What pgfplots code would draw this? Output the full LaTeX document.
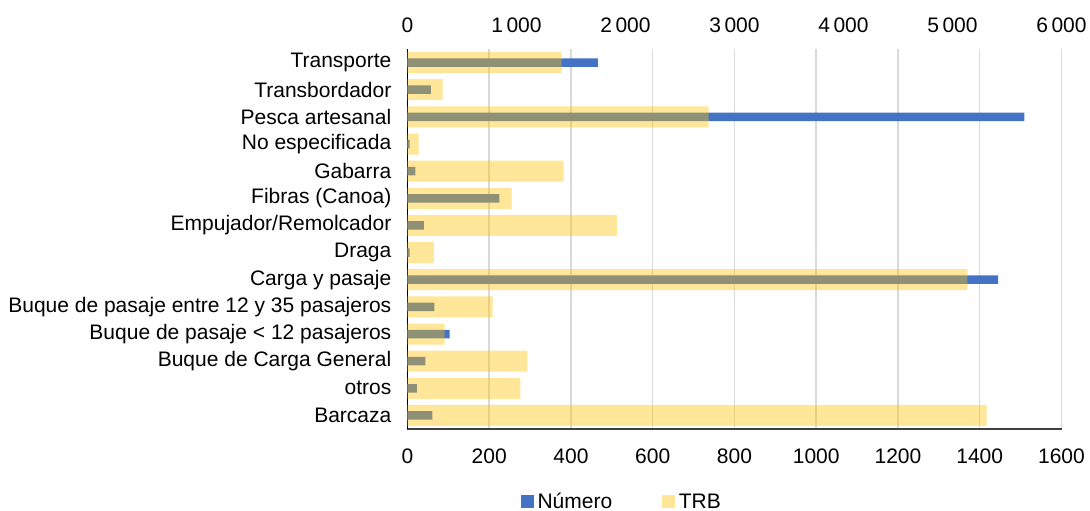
\documentclass[border=0pt]{standalone}
\usepackage{pgfplots}
\pgfplotsset{compat=1.18}
\usepackage{fontspec}
\setmainfont{Liberation Sans}

\definecolor{numblue}{HTML}{4472C4}
\definecolor{trbgold}{HTML}{FFC000}
\definecolor{gridgray}{HTML}{D9D9D9}

\newcommand{\chartfont}{\fontsize{21}{24}\selectfont}

\pgfplotsset{
  vesselframe/.style={
    scale only axis, width=654pt, height=380pt,
    at={(0,0)}, anchor=south west,
    xmin=0, ymin=-0.5, ymax=13.5, y dir=reverse,
    major tick length=0pt,
    tick label style={font=\chartfont},
    /pgf/number format/assume math mode=true,
  },
  sqlegend/.style={
    legend image code/.code={\fill[##1] (0pt,-6.3pt) rectangle (12.6pt,6.3pt);}
  },
}

\begin{document}
\begin{tikzpicture}
% Number of vessels per type (bottom axis)
\begin{axis}[vesselframe,
  xmax=1600, xtick={0,200,...,1600},
  /pgf/number format/1000 sep={},
  ytick={0,...,13},
  yticklabels={Transporte, Transbordador, Pesca artesanal, No especificada,
    Gabarra, Fibras (Canoa), Empujador/Remolcador, Draga, Carga y pasaje,
    Buque de pasaje entre 12 y 35 pasajeros, Buque de pasaje < 12 pasajeros,
    Buque de Carga General, otros, Barcaza},
  axis x line*=bottom, axis y line*=left,
  x axis line style={draw=black!75, line width=1.5pt},
  y axis line style={draw=black, line width=1.2pt},
  xmajorgrids, grid style={draw=gridgray, line width=1.5pt},
  xticklabel style={anchor=north, inner sep=0pt, yshift=-20pt},
  yticklabel style={anchor=east, inner sep=0pt, xshift=-16pt},
  xbar, bar width=8.5pt]
\addplot[fill=numblue, draw=none] coordinates {
  (466,0) (57,1) (1509,2) (5,3) (19,4) (225,5) (40,6)
  (5,7) (1445,8) (66,9) (103,10) (44,11) (23,12) (61,13)};
\end{axis}

% Gross registered tonnage per type (top axis)
\begin{axis}[vesselframe,
  xmax=6000, xtick={0,1000,...,6000},
  /pgf/number format/1000 sep={\,},
  axis x line*=top, axis y line=none,
  x axis line style={draw=none},
  ytick=\empty,
  xticklabel style={anchor=south, inner sep=0pt, yshift=16pt},
  xbar, bar width=21pt,
  legend columns=2,
  legend style={at={(0.1731,-0.1913)}, anchor=west, draw=none, fill=none,
    inner sep=0pt, font=\chartfont,
    nodes={inner sep=0pt, anchor=west},
    /tikz/every odd column/.append style={column sep=4pt},
    /tikz/every even column/.append style={column sep=50pt}}]
\addlegendimage{sqlegend, fill=numblue, draw=none}
\addlegendentry{Número}
\addplot[sqlegend, fill=trbgold, fill opacity=0.4, draw=none] coordinates {
  (1415,0) (323,1) (2763,2) (103,3) (1433,4) (956,5) (1922,6)
  (243,7) (5136,8) (782,9) (341,10) (1099,11) (1035,12) (5314,13)};
\addlegendentry{TRB}
\end{axis}

\pgfresetboundingbox
\path[use as bounding box] (-407.5pt,-82pt) rectangle (682.5pt,429pt);
\end{tikzpicture}
\end{document}
